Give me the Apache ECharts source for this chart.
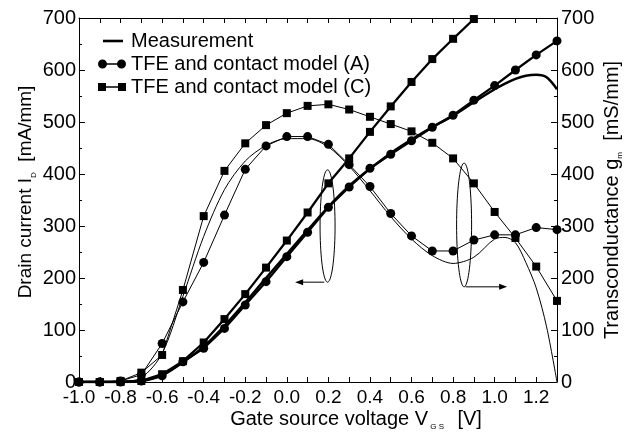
<!DOCTYPE html>
<html>
<head>
<meta charset="utf-8">
<script src="https://cdn.jsdelivr.net/npm/echarts@6/dist/echarts.min.js"></script>
<style>html,body{margin:0;padding:0;background:#fff;}#c{width:629px;height:435px;}</style>
</head>
<body>
<div id="c"></div>
<script>
// ---- data ----
const vgs = [-1.0,-0.9,-0.8,-0.7,-0.6,-0.5,-0.4,-0.3,-0.2,-0.1,0.0,0.1,0.2,0.3,0.4,0.5,0.6,0.7,0.8,0.9,1.0,1.1,1.2,1.3];
const idModelA = [0,0,0,2,12,39,65,103,148,193,241,288,336,375,411,438,464,490,513,542,570,600,629,656];
const idModelC = [0,0,0,2,15,40,76,121,169,220,272,326,382,430,481,530,577,621,660,698,null,null,null,null];
const gmModelA = [0,0,2,14,74,154,230,321,409,454,472,472,457,418,376,324,281,252,252,273,283,283,297,293];
const gmModelC = [0,0,2,18,52,177,319,406,459,494,517,531,534,524,510,496,482,460,430,382,327,277,222,156];
const measV  = [-1.0,-0.9,-0.8,-0.7,-0.6,-0.5,-0.4,-0.3,-0.2,-0.1,0.0,0.1,0.2,0.3,0.4,0.5,0.6,0.7,0.8,0.9,1.0,1.05,1.1,1.15,1.2,1.25,1.3];
const idMeas = [0,0,0,2,13,38,68,108,153,200,246,292,337,377,410,440,466,490,512,538,563,574,583,589,591,586,563];
const gmMeas = [0,0,1,8,55,165,280,370,425,455,468,468,452,415,368,318,275,243,228,240,275,278,268,230,181,106,0];
const legendNames = ['Measurement','TFE and contact model (A)','TFE and contact model (C)'];
const xTicks = {min:-1.0, max:1.3, step:0.1};
const yTicks = {min:0, max:700, step:100};

const FONT = "'Liberation Sans', Arial, sans-serif";
const pairs = (xs, ys) => xs.map((x,i) => [x, ys[i]]);

const chart = echarts.init(document.getElementById('c'), null, {renderer:'canvas'});

const axisCommon = {
  type:'value',
  axisLine:{show:true, onZero:false, lineStyle:{color:'#000', width:1}},
  axisTick:{show:true, inside:true, length:5, lineStyle:{color:'#000'}},
  splitLine:{show:false}
};

const option = {
  backgroundColor:'#fff',
  animation:false,
  grid:{left:79, right:72, top:18, bottom:53},
  legend:{
    orient:'vertical', left:93, top:26, itemGap:3, itemWidth:28, itemHeight:10,
    selectedMode:false,
    textStyle:{fontSize:20, color:'#000', fontFamily:FONT, padding:[0,0,0,0]},
    data:[
      {name:legendNames[0], icon:'path://M0,0 M28,10 M5,3.7 L25,3.7 L25,6.3 L5,6.3 Z'},
      {name:legendNames[1], icon:'path://M0,0 M28,10 M0,5 A4.5,4.5 0 1,1 9,5 A4.5,4.5 0 1,1 0,5 Z M19,5 A4.5,4.5 0 1,1 28,5 A4.5,4.5 0 1,1 19,5 Z M8,4.3 L20,4.3 L20,5.7 L8,5.7 Z'},
      {name:legendNames[2], icon:'path://M0,0 M28,10 M0,1 L8,1 L8,9 L0,9 Z M20,1 L28,1 L28,9 L20,9 Z M8,4.3 L20,4.3 L20,5.7 L8,5.7 Z'}
    ]
  },
  xAxis:[
    Object.assign({}, axisCommon, {
      min:xTicks.min, max:xTicks.max, interval:xTicks.step, position:'bottom',
      axisLabel:{fontSize:19, color:'#000', fontFamily:FONT, margin:6, showMaxLabel:true,
        formatter:v => (Math.round(v*10) % 2 === 0 && v < 1.25) ? v.toFixed(1) : ''}
    }),
    Object.assign({}, axisCommon, {
      min:xTicks.min, max:xTicks.max, interval:xTicks.step, position:'top',
      axisLabel:{show:false}
    })
  ],
  yAxis:[
    Object.assign({}, axisCommon, {
      min:yTicks.min, max:yTicks.max, interval:yTicks.step, position:'left',
      axisTick:{show:true, inside:true, length:6, lineStyle:{color:'#000'}},
      minorTick:{show:true, splitNumber:2, length:3, lineStyle:{color:'#000'}},
      axisLabel:{fontSize:20, color:'#000', fontFamily:FONT, margin:3}
    }),
    Object.assign({}, axisCommon, {
      min:yTicks.min, max:yTicks.max, interval:yTicks.step, position:'right',
      axisTick:{show:true, inside:true, length:6, lineStyle:{color:'#000'}},
      minorTick:{show:true, splitNumber:2, length:3, lineStyle:{color:'#000'}},
      axisLabel:{fontSize:20, color:'#000', fontFamily:FONT, margin:4}
    })
  ],
  series:[
    {name:legendNames[0], type:'line', yAxisIndex:0, data:pairs(measV, idMeas), showSymbol:false, symbol:'none', smooth:0.3,
      lineStyle:{color:'#000', width:2.5}, itemStyle:{color:'#000'}, z:3},
    {name:legendNames[0], type:'line', yAxisIndex:1, data:pairs(measV, gmMeas), showSymbol:false, symbol:'none', smooth:0.3,
      lineStyle:{color:'#000', width:1}, itemStyle:{color:'#000'}, z:3},
    {name:legendNames[1], type:'line', yAxisIndex:0, data:pairs(vgs, idModelA), symbol:'circle', symbolSize:9,
      lineStyle:{color:'#000', width:2.3}, itemStyle:{color:'#000'}, z:4},
    {name:legendNames[1], type:'line', yAxisIndex:1, data:pairs(vgs, gmModelA), symbol:'circle', symbolSize:9,
      lineStyle:{color:'#000', width:1}, itemStyle:{color:'#000'}, z:4},
    {name:legendNames[2], type:'line', yAxisIndex:0, data:pairs(vgs, idModelC), symbol:'rect', symbolSize:8, connectNulls:false,
      lineStyle:{color:'#000', width:2.3}, itemStyle:{color:'#000'}, z:4},
    {name:legendNames[2], type:'line', yAxisIndex:1, data:pairs(vgs, gmModelC), symbol:'rect', symbolSize:8,
      lineStyle:{color:'#000', width:1}, itemStyle:{color:'#000'}, z:4}
  ]
};
chart.setOption(option);

// ---- annotations (ellipses + arrows) and axis titles ----
const px = (x, y) => chart.convertToPixel({xAxisIndex:0, yAxisIndex:0}, [x, y]);
function ellipse(cx, cy, ryVal, rxPx) {
  const c = px(cx, cy);
  const top = px(cx, cy + ryVal);
  const ry = c[1] - top[1];
  const pts = [];
  for (let i = 0; i <= 72; i++) {
    const a = i / 72 * Math.PI * 2;
    pts.push([c[0] + rxPx * Math.cos(a), c[1] + ry * Math.sin(a)]);
  }
  return {type:'polyline', shape:{points:pts}, style:{stroke:'#000', lineWidth:1, fill:null}, z:10, silent:true};
}
function arrow(x0, x1, yv) {
  const a = px(x0, yv), b = px(x1, yv);
  const dir = Math.sign(b[0] - a[0]);
  return [
    {type:'line', shape:{x1:a[0], y1:a[1], x2:b[0] - dir*6, y2:b[1]}, style:{stroke:'#000', lineWidth:1}, z:10, silent:true},
    {type:'polygon', shape:{points:[[b[0], b[1]], [b[0] - dir*8, b[1] - 3], [b[0] - dir*8, b[1] + 3]]}, style:{fill:'#000'}, z:10, silent:true}
  ];
}
const rich = {
  a:{fontSize:20, fontFamily:FONT, color:'#000', lineHeight:24},
  s:{fontSize:8, fontFamily:FONT, color:'#000', lineHeight:9, verticalAlign:'bottom'}
};
const richL = {
  a:{fontSize:19, fontFamily:FONT, color:'#000', lineHeight:23},
  s:{fontSize:8, fontFamily:FONT, color:'#000', lineHeight:9, verticalAlign:'bottom'}
};
const graphics = [
  ellipse(0.196, 300, 108, 7.5),
  ellipse(0.853, 302, 119, 7.5),
  ...arrow(0.18, 0.04, 192),
  ...arrow(0.86, 1.06, 183),
  {type:'text', x:26, y:192, rotation:Math.PI/2, style:{text:'{a|Drain current I}{s|D}{a|  [mA/mm]}', rich:richL, align:'center', verticalAlign:'middle', fontSize:19, fontFamily:FONT}, z:10},
  {type:'text', x:612, y:200, rotation:Math.PI/2, style:{text:'{a|Transconductance g}{s|m}{a|  [mS/mm]}', rich:rich, align:'center', verticalAlign:'middle', fontSize:20, fontFamily:FONT}, z:10},
  {type:'text', x:356, y:419, style:{text:'{a|Gate source voltage V}{s| G S }{a|  [V]}', rich:rich, align:'center', verticalAlign:'middle', fontSize:20, fontFamily:FONT}, z:10}
];
chart.setOption({graphic:graphics});
</script>
</body>
</html>
